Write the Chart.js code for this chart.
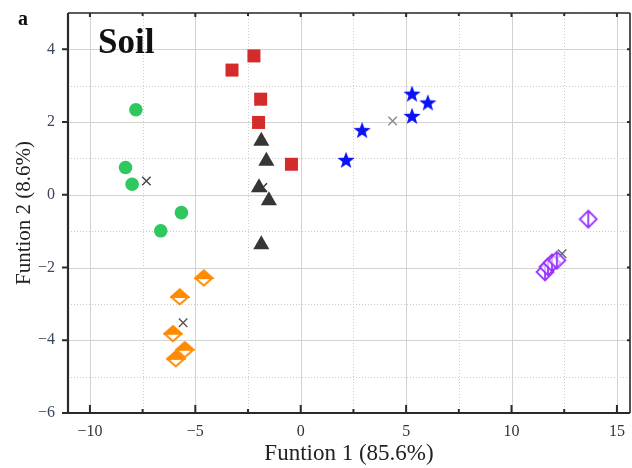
<!DOCTYPE html>
<html lang="en">
<head>
<meta charset="UTF-8">
<title>Soil</title>
<script src="https://cdn.jsdelivr.net/npm/chart.js"></script>
<style>
    html, body { margin: 0; padding: 0; background: #fff; overflow: hidden; }
    #wrap { position: relative; width: 632px; height: 468px; overflow: hidden; }
    .lbl { position: absolute; font-family: "Liberation Serif", serif; font-weight: bold; color: #111; line-height: 1; }
</style>
</head>
<body>
<div id="wrap">
    <canvas id="lda" width="641" height="468"></canvas>
    <div class="lbl" style="left:18px; top:8px; font-size:20px;">a</div>
    <div class="lbl" style="left:98px; top:24px; font-size:35px;">Soil</div>
</div>
<script>
    // Discriminant scores, one small array per group
    const grpGreen  = [[-7.82, 2.34], [-8.31, 0.75], [-8.0, 0.29], [-5.66, -0.49], [-6.64, -0.99]];
    const grpRed    = [[-3.26, 3.43], [-2.22, 3.82], [-1.9, 2.63], [-2.0, 1.99], [-0.44, 0.84]];
    const grpBlack  = [[-1.87, 1.48], [-1.63, 0.93], [-1.98, 0.2], [-1.51, -0.16], [-1.87, -1.37]];
    const grpBlue   = [[5.28, 2.78], [6.03, 2.54], [5.28, 2.17], [2.91, 1.78], [2.15, 0.96]];
    const grpOrange = [[-4.6, -2.29], [-5.74, -2.81], [-6.06, -3.82], [-5.5, -4.26], [-5.93, -4.51]];
    const grpPurple = [[13.64, -0.67], [11.59, -2.12], [11.73, -1.98], [11.92, -1.87], [12.15, -1.8]];
    // group centroids (same order as above)
    const centroids = [[-7.32, 0.38], [-1.95, 2.58], [-1.8, 0.2], [4.36, 2.03], [-5.58, -3.52], [12.4, -1.62]];

    const xTickValues = [-10, -7.5, -5, -2.5, 0, 2.5, 5, 7.5, 10, 12.5, 15];
    const yTickValues = [-6, -5, -4, -3, -2, -1, 0, 1, 2, 3, 4, 5];
    const xRange = [-11.04, 15.62];
    const yRange = [-6, 5];

    const pts = arr => arr.map(p => ({ x: p[0], y: p[1] }));

    function marker(w, h, draw) {
        const c = document.createElement('canvas');
        c.width = w; c.height = h;
        draw(c.getContext('2d'), w, h);
        return c;
    }

    const starMark = marker(18, 18, (g) => {
        g.fillStyle = '#0a12f5';
        g.beginPath();
        for (let i = 0; i < 10; i++) {
            const r = i % 2 ? 3.7 : 9;
            const a = -Math.PI / 2 + i * Math.PI / 5;
            const px = 9 + r * Math.cos(a), py = 9.8 + r * Math.sin(a);
            i ? g.lineTo(px, py) : g.moveTo(px, py);
        }
        g.closePath();
        g.fill();
    });

    // diamond, top half filled
    const halfDiamond = marker(20, 18, (g) => {
        g.fillStyle = '#fff';
        g.strokeStyle = '#ff8a00';
        g.lineWidth = 2;
        g.beginPath();
        g.moveTo(10, 1.5); g.lineTo(18.5, 9); g.lineTo(10, 16.5); g.lineTo(1.5, 9); g.closePath();
        g.fill(); g.stroke();
        g.fillStyle = '#ff8a00';
        g.beginPath();
        g.moveTo(10, 1.5); g.lineTo(18.5, 9); g.lineTo(1.5, 9); g.closePath();
        g.fill(); g.stroke();
    });

    // open diamond split by a vertical stroke
    const splitDiamond = marker(20, 20, (g) => {
        g.fillStyle = 'rgba(255,255,255,0.6)';
        g.strokeStyle = '#9a32ff';
        g.lineWidth = 1.8;
        g.beginPath();
        g.moveTo(10, 1.5); g.lineTo(18.5, 10); g.lineTo(10, 18.5); g.lineTo(1.5, 10); g.closePath();
        g.fill(); g.stroke();
        g.beginPath(); g.moveTo(10, 1.5); g.lineTo(10, 18.5); g.stroke();
    });

    // grid (solid major / dotted minor), frame and tick marks
    const framePlugin = {
        id: 'frame',
        beforeDatasetsDraw(chart) {
            const { ctx, chartArea: a, scales: { x, y } } = chart;
            ctx.save();
            xTickValues.forEach(v => {
                const px = Math.round(x.getPixelForValue(v)) + 0.5;
                const major = v % 5 === 0;
                ctx.strokeStyle = major ? '#d3d3d3' : '#cccccc';
                ctx.lineWidth = 1;
                ctx.setLineDash(major ? [] : [1, 2]);
                ctx.beginPath(); ctx.moveTo(px, a.top); ctx.lineTo(px, a.bottom); ctx.stroke();
            });
            yTickValues.forEach(v => {
                const py = Math.round(y.getPixelForValue(v)) + 0.5;
                const major = v % 2 === 0;
                ctx.strokeStyle = major ? '#d3d3d3' : '#cccccc';
                ctx.lineWidth = 1;
                ctx.setLineDash(major ? [] : [1, 2]);
                ctx.beginPath(); ctx.moveTo(a.left, py); ctx.lineTo(a.right, py); ctx.stroke();
            });
            ctx.setLineDash([]);

            ctx.strokeStyle = '#2a2a2a';
            ctx.lineWidth = 1.6;
            ctx.beginPath();
            ctx.moveTo(a.left, a.top); ctx.lineTo(a.right, a.top);
            ctx.moveTo(a.right, a.top); ctx.lineTo(a.right, a.bottom);
            ctx.stroke();
            ctx.lineWidth = 2.2;
            ctx.beginPath();
            ctx.moveTo(a.left, a.top); ctx.lineTo(a.left, a.bottom); ctx.lineTo(a.right, a.bottom);
            ctx.stroke();

            ctx.lineWidth = 2;
            xTickValues.forEach(v => {
                const px = x.getPixelForValue(v);
                const major = v % 5 === 0;
                ctx.beginPath();
                ctx.moveTo(px, a.bottom); ctx.lineTo(px, a.bottom - (major ? 8 : 4));
                ctx.moveTo(px, a.top); ctx.lineTo(px, a.top + (major ? 4 : 3));
                ctx.stroke();
            });
            yTickValues.forEach(v => {
                if (v % 2 !== 0 || v === 5) return;
                const py = y.getPixelForValue(v);
                ctx.beginPath();
                ctx.moveTo(a.left, py); ctx.lineTo(a.left - 6, py);
                ctx.moveTo(a.right, py); ctx.lineTo(a.right - 3, py);
                ctx.stroke();
            });
            ctx.restore();
        }
    };

    const fmt = v => (v < 0 ? '\u2212' : '') + Math.abs(v);

    new Chart(document.getElementById('lda'), {
        type: 'scatter',
        data: {
            datasets: [
                { data: pts(grpGreen), pointStyle: 'circle', pointRadius: 6.8, backgroundColor: '#2fc85f', borderWidth: 0 },
                { data: pts(grpRed), pointStyle: 'rect', pointRadius: 9.2, backgroundColor: '#d42b2b', borderWidth: 0 },
                { data: pts(grpBlack), pointStyle: 'triangle', pointRadius: 9.3, backgroundColor: '#363636', borderWidth: 0 },
                { data: pts(grpBlue), pointStyle: starMark, pointRadius: 9 },
                { data: pts(grpOrange), pointStyle: halfDiamond, pointRadius: 9 },
                { data: pts(grpPurple), pointStyle: splitDiamond, pointRadius: 10 },
                { data: pts(centroids), pointStyle: 'crossRot', pointRadius: 6, borderWidth: 1.4,
                  borderColor: ['#444', '#333', '#333', '#8a8a8a', '#555', '#666'] }
            ]
        },
        options: {
            responsive: false,
            animation: false,
            layout: { padding: { top: 13, right: 1, left: 0, bottom: 0 } },
            plugins: { legend: { display: false }, tooltip: { enabled: false } },
            scales: {
                x: {
                    type: 'linear', min: xRange[0], max: xRange[1],
                    afterBuildTicks: s => { s.ticks = xTickValues.map(v => ({ value: v })); },
                    afterFit: s => { s.height = 55; s.paddingLeft = 0; s.paddingRight = 0; },
                    grid: { display: false, drawTicks: false },
                    border: { display: false },
                    ticks: {
                        autoSkip: false, maxRotation: 0, padding: 9, color: '#333',
                        font: { family: 'Liberation Serif', size: 16 },
                        callback: v => (v % 5 === 0 ? fmt(v) : '')
                    },
                    title: {
                        display: true, text: 'Funtion 1 (85.6%)', color: '#222',
                        font: { family: 'Liberation Serif', size: 23 }, padding: { top: 0, bottom: 0 }
                    }
                },
                y: {
                    type: 'linear', min: yRange[0], max: yRange[1],
                    afterBuildTicks: s => { s.ticks = yTickValues.map(v => ({ value: v })); },
                    afterFit: s => { s.width = 68; s.paddingTop = 0; s.paddingBottom = 0; },
                    grid: { display: false, drawTicks: false },
                    border: { display: false },
                    ticks: {
                        autoSkip: false, padding: 13, color: '#3b4756',
                        font: { family: 'Liberation Serif', size: 16 },
                        callback: v => (v % 2 === 0 && v !== 5 ? fmt(v) : '')
                    },
                    title: {
                        display: true, text: 'Funtion 2 (8.6%)', color: '#222',
                        font: { family: 'Liberation Serif', size: 21 }, padding: { top: 12, bottom: 0 }
                    }
                }
            }
        },
        plugins: [framePlugin]
    });
</script>
</body>
</html>
